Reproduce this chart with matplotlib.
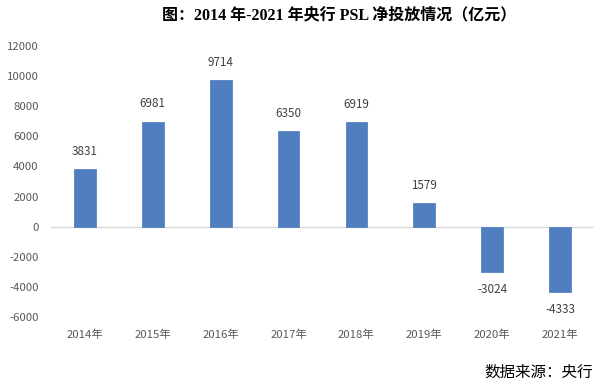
import matplotlib
matplotlib.use("Agg")
import matplotlib.pyplot as plt

years = ["2014年", "2015年", "2016年", "2017年", "2018年", "2019年", "2020年", "2021年"]
values = [3831, 6981, 9714, 6350, 6919, 1579, -3024, -4333]
yticks = [-6000, -4000, -2000, 0, 2000, 4000, 6000, 8000, 10000, 12000]

cjk = ["Noto Sans CJK SC", "DejaVu Sans"]
fig = plt.figure(figsize=(6.0, 3.85), dpi=100)
ax = fig.add_axes([0.085, 0.1766, 0.905, 0.704])

x = list(range(len(years)))
ax.bar(x, values, width=0.32, color="#4F7FC0", edgecolor="#4A78B8", linewidth=0.5, zorder=3)
ax.set_xlim(-0.5, len(years) - 0.5)
ax.set_ylim(-6000, 12000)
ax.set_yticks(yticks)
ax.set_yticklabels([str(v) for v in yticks], family=cjk, fontsize=8.2, color="#595959")
ax.set_xticks(x)
ax.set_xticklabels(years, family=cjk, fontsize=8.2, color="#595959")
ax.tick_params(axis="both", length=0)
ax.tick_params(axis="y", pad=9)
ax.tick_params(axis="x", pad=9)
for s in ax.spines.values():
    s.set_visible(False)
ax.axhline(0, color="#D9D9D9", linewidth=1, zorder=2)

for xi, v in zip(x, values):
    if v >= 0:
        ax.annotate(str(v), (xi, v), xytext=(0, 8), textcoords="offset points",
                    ha="center", va="bottom", family=cjk, fontsize=8.4, color="#404040")
    else:
        ax.annotate(str(v), (xi, v), xytext=(0, -8), textcoords="offset points",
                    ha="center", va="top", family=cjk, fontsize=8.4, color="#404040")

fig.text(0.566, 0.96, "图：2014 年-2021 年央行 PSL 净投放情况（亿元）",
         ha="center", va="center", fontsize=11.5, fontweight="bold",
         family=["Liberation Serif", "Noto Sans CJK SC"])
fig.text(0.988, 0.034, "数据来源：央行", ha="right", va="center", fontsize=11.2,
         family=cjk, color="#000000")

fig.savefig("out.png", dpi=100)
